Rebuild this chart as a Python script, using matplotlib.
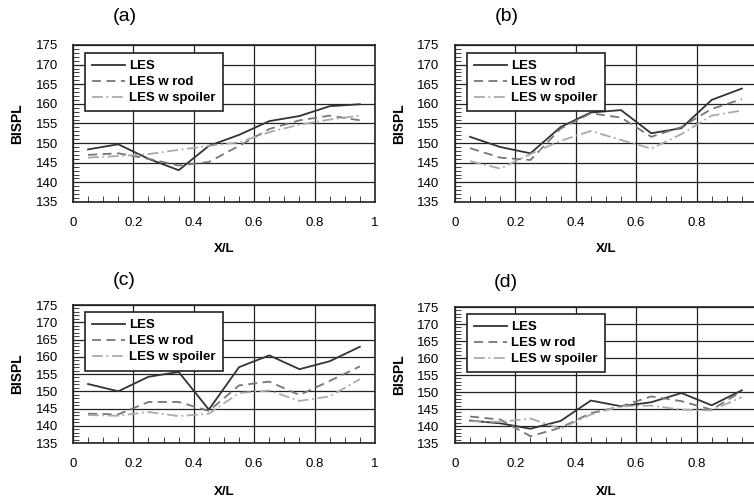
import matplotlib.pyplot as plt
from matplotlib.ticker import MultipleLocator

plt.rcParams['font.family'] = ['Liberation Sans', 'DejaVu Sans']

x = [0.05, 0.15, 0.25, 0.35, 0.45, 0.55, 0.65, 0.75, 0.85, 0.95]
labels = ['LES', 'LES w rod', 'LES w spoiler']

# (a)
les_a = [148.4, 149.7, 146.0, 143.1, 149.3, 152.1, 155.6, 156.9, 159.4, 159.9]
rod_a = [147.0, 147.4, 146.0, 144.3, 145.2, 149.3, 153.6, 155.8, 157.0, 155.8]
spo_a = [146.3, 146.7, 147.2, 148.3, 149.3, 150.2, 152.8, 154.7, 156.0, 157.0]
# (b)
les_b = [151.6, 149.0, 147.4, 154.1, 157.8, 158.4, 152.5, 153.8, 161.0, 163.9]
rod_b = [148.7, 146.3, 145.7, 153.7, 157.6, 156.5, 151.6, 154.1, 158.7, 161.2]
spo_b = [145.4, 143.5, 147.2, 150.6, 153.1, 150.8, 148.6, 152.3, 157.0, 158.3]
# (c)
les_c = [152.1, 150.0, 154.2, 155.6, 144.7, 157.0, 160.4, 156.4, 158.7, 162.9]
rod_c = [143.5, 143.3, 146.9, 146.9, 144.3, 151.7, 152.8, 148.9, 153.0, 157.2]
spo_c = [143.1, 142.9, 144.0, 142.8, 143.5, 149.5, 150.2, 147.2, 148.5, 153.5]
# (d)
les_d = [141.6, 140.8, 139.2, 141.5, 147.5, 145.8, 147.0, 149.7, 146.1, 150.5]
rod_d = [142.8, 141.9, 137.0, 139.5, 143.8, 145.8, 148.7, 147.3, 144.8, 150.2]
spo_d = [141.4, 141.2, 142.2, 139.2, 143.4, 145.8, 146.0, 144.8, 144.6, 148.5]

# title, series, axes rect, xlabel pad
panels = [('(a)', les_a, rod_a, spo_a, [0.0968, 0.5944, 0.4005, 0.3153], 10),
          ('(b)', les_b, rod_b, spo_b, [0.6034, 0.5944, 0.4005, 0.3153], 10),
          ('(c)', les_c, rod_c, spo_c, [0.0968, 0.1104, 0.4005, 0.2771], 11),
          ('(d)', les_d, rod_d, spo_d, [0.6034, 0.1104, 0.4005, 0.2731], 11)]

fig = plt.figure(figsize=(7.54, 4.98), dpi=100)

for title, les, rod, spo, pos, xpad in panels:
    ax = fig.add_axes(pos)
    ax.plot(x, les, color='#333333', lw=1.3, ls='-', label=labels[0])
    ax.plot(x, rod, color='#777777', lw=1.3, ls=(0, (5, 3)), label=labels[1])
    ax.plot(x, spo, color='#aaaaaa', lw=1.3, ls=(0, (6, 2, 1, 2)), label=labels[2])
    ax.set_xlim(0, 1)
    ax.set_ylim(135, 175)
    ax.xaxis.set_minor_locator(MultipleLocator(0.05))
    ax.yaxis.set_major_locator(MultipleLocator(5))
    ax.yaxis.set_minor_locator(MultipleLocator(1))
    ax.set_xticks([0, 0.2, 0.4, 0.6, 0.8, 1.0])
    ax.set_xticklabels(['0', '0.2', '0.4', '0.6', '0.8', '1'])
    ax.grid(True, which='major', color='#222222', lw=0.9)
    ax.tick_params(which='both', direction='in', labelsize=9.5, color='#222222')
    ax.tick_params(axis='x', which='major', length=0, pad=11)
    ax.tick_params(axis='y', which='major', length=0, pad=11)
    ax.tick_params(which='minor', length=4)
    for s in ax.spines.values():
        s.set_color('#222222')
        s.set_linewidth(1.2)
    ax.set_xlabel('X/L', fontsize=9.5, fontweight='bold', labelpad=xpad)
    ax.set_ylabel('BISPL', fontsize=10, fontweight='bold', labelpad=8)
    ax.text(0.17, 1.18, title, transform=ax.transAxes, fontsize=14, ha='center', va='center')
    leg = ax.legend(loc='upper left', bbox_to_anchor=(0.04, 0.95), fancybox=False,
                    edgecolor='#222222', framealpha=1, handlelength=2.5,
                    borderpad=0.55, labelspacing=0.28, handletextpad=0.3,
                    borderaxespad=0, prop={'weight': 'bold', 'size': 9.5})
    leg.get_frame().set_linewidth(1.2)

fig.savefig('out.png', dpi=100)
